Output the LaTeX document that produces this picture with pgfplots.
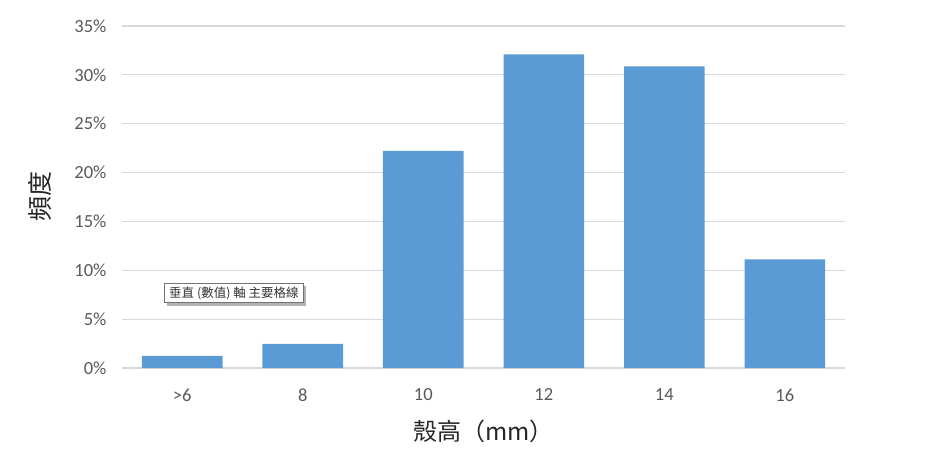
\documentclass[border=0pt]{standalone}
\usepackage{pgfplots}
\pgfplotsset{compat=1.18}
\usepackage{fontspec}
\setmainfont{Carlito}
\newfontfamily\cjk{Noto Sans CJK TC}
\definecolor{barblue}{HTML}{5B9BD5}
\definecolor{gridgray}{HTML}{D9D9D9}
\definecolor{ticktext}{HTML}{595959}

% counts out of 81 shells, per size class
\pgfplotstableread{
x share
0 1.235
1 2.469
2 22.222
3 32.099
4 30.864
5 11.111
}\shells

\begin{document}
\begin{tikzpicture}[x=1pt,y=1pt]
\useasboundingbox (0,0) rectangle (926,450);
\begin{axis}[
  scale only axis, width=723pt, height=342pt,
  at={(122pt,82pt)}, anchor=south west,
  xmin=-0.5, xmax=5.5, ymin=0, ymax=35,
  axis line style={draw=none},
  xtick=data, xticklabels={>6,8,10,12,14,16},
  ytick={0,5,...,35},
  yticklabel={\pgfmathprintnumber{\tick}\%},
  /pgf/number format/assume math mode=true,
  ymajorgrids, grid style={gridgray, line width=1.2pt},
  major tick length=0pt,
  tick label style={font=\fontsize{18.5}{20}\selectfont, text=ticktext},
  xticklabel style={yshift=-17pt},
  yticklabel style={xshift=-12pt},
  ybar, bar width=80.5pt,
  xlabel={\cjk\fontsize{24}{26}\selectfont 殼高（mm）},
  xlabel style={text=black!85, yshift=-12pt},
  ylabel={\cjk\fontsize{25}{27}\selectfont 頻度},
  ylabel style={text=black!85, yshift=16pt},
  clip=false,
]
\addplot[fill=barblue, draw=none] table[x=x, y=share] {\shells};
\end{axis}
\fill[black!30] (167,144) rectangle (306,164);
\node[draw=black!55, fill=white, line width=0.8pt, anchor=north west,
  inner xsep=4pt, inner ysep=2pt, minimum height=19pt, minimum width=139pt,
  font=\cjk\fontsize{12.5}{14}\selectfont, text=black!80]
  at (164,166.5) {垂直 (數值) 軸 主要格線};
\end{tikzpicture}
\end{document}
